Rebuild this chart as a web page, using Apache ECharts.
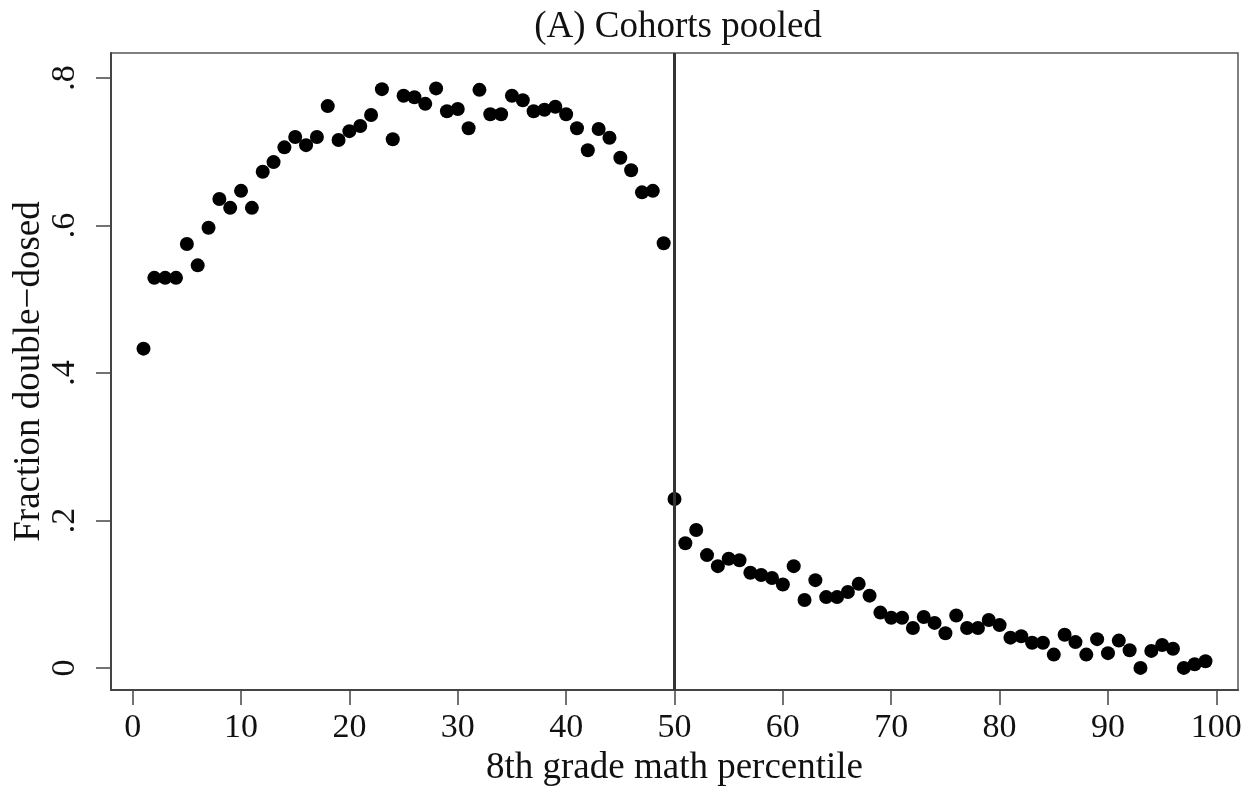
<!DOCTYPE html>
<html>
<head>
<meta charset="utf-8">
<script src="https://cdn.jsdelivr.net/npm/echarts@6/dist/echarts.min.js"></script>
<style>
  html, body { margin: 0; padding: 0; background: #fff; }
  #chart { width: 1252px; height: 791px; }
</style>
</head>
<body>
<div id="chart"></div>
<script>
'use strict';

// percentile bins 1..99
const percentiles = [
  1, 2, 3, 4, 5, 6, 7, 8, 9, 10, 11, 12, 13, 14, 15, 16, 17, 18, 19, 20,
  21, 22, 23, 24, 25, 26, 27, 28, 29, 30, 31, 32, 33, 34, 35, 36, 37, 38, 39, 40,
  41, 42, 43, 44, 45, 46, 47, 48, 49, 50, 51, 52, 53, 54, 55, 56, 57, 58, 59, 60,
  61, 62, 63, 64, 65, 66, 67, 68, 69, 70, 71, 72, 73, 74, 75, 76, 77, 78, 79, 80,
  81, 82, 83, 84, 85, 86, 87, 88, 89, 90, 91, 92, 93, 94, 95, 96, 97, 98, 99
];

// fraction double-dosed
const fractionDoubleDosed = [
  0.433, 0.529, 0.529, 0.529, 0.575, 0.546, 0.597, 0.636, 0.624, 0.647,
  0.624, 0.673, 0.686, 0.706, 0.720, 0.709, 0.720, 0.762, 0.716, 0.728,
  0.735, 0.750, 0.785, 0.717, 0.776, 0.774, 0.765, 0.786, 0.755, 0.758,
  0.732, 0.784, 0.751, 0.751, 0.776, 0.770, 0.755, 0.757, 0.761, 0.751,
  0.732, 0.702, 0.731, 0.719, 0.692, 0.675, 0.645, 0.647, 0.576, 0.229,
  0.169, 0.187, 0.153, 0.138, 0.148, 0.146, 0.129, 0.126, 0.122, 0.113,
  0.138, 0.092, 0.119, 0.096, 0.096, 0.103, 0.114, 0.098, 0.075, 0.068,
  0.068, 0.054, 0.069, 0.061, 0.047, 0.071, 0.054, 0.054, 0.065, 0.058,
  0.041, 0.043, 0.034, 0.034, 0.018, 0.045, 0.035, 0.018, 0.039, 0.020,
  0.037, 0.024, 0.000, 0.023, 0.031, 0.026, 0.000, 0.005, 0.009
];

const xTicks = [0, 10, 20, 30, 40, 50, 60, 70, 80, 90, 100];
const yTicks = [0, 0.2, 0.4, 0.6, 0.8];
const cutoff = 50;

const serif = '"Liberation Serif", "DejaVu Serif", serif';

let chart = echarts.init(document.getElementById('chart'));

chart.setOption({
  animation: false,
  backgroundColor: '#fff',
  // title is centred over the plot region, like Stata does
  title: {
    text: '(A) Cohorts pooled',
    left: 673,
    textAlign: 'center',
    top: 4,
    textStyle: { fontFamily: serif, fontSize: 37, fontWeight: 'normal', color: '#111' }
  },
  grid: {
    left: 111, right: 14, top: 53, bottom: 101,
    outerBoundsMode: 'none',
    show: true, borderColor: '#555', borderWidth: 1.5
  },
  xAxis: {
    type: 'value',
    min: -2, max: 102,
    name: '8th grade math percentile',
    nameLocation: 'middle',
    nameMoveOverlap: false,
    nameGap: 60,
    nameTextStyle: { fontFamily: serif, fontSize: 37, color: '#111' },
    axisLine: { show: true, onZero: false, lineStyle: { color: '#444', width: 2 } },
    axisTick: { show: true, length: 15, customValues: xTicks, lineStyle: { color: '#444', width: 1.5 } },
    axisLabel: { customValues: xTicks, margin: 21, fontFamily: serif, fontSize: 34, color: '#111' },
    splitLine: { show: false }
  },
  yAxis: {
    type: 'value',
    min: -0.03, max: 0.834,
    name: 'Fraction double\u2212dosed',
    nameLocation: 'middle',
    nameMoveOverlap: false,
    nameRotate: 90,
    nameGap: 63,
    nameTextStyle: { fontFamily: serif, fontSize: 37, color: '#111' },
    axisLine: { show: true, onZero: false, lineStyle: { color: '#444', width: 2 } },
    axisTick: { show: true, length: 15, customValues: yTicks, lineStyle: { color: '#444', width: 1.5 } },
    axisLabel: {
      customValues: yTicks,
      rotate: 90,
      margin: 29,
      fontFamily: serif, fontSize: 34, color: '#111',
      formatter: function(v) {
        if (Math.abs(v) < 1e-9) { return '0'; }
        return v.toFixed(1).replace(/^0/, '');
      }
    },
    splitLine: { show: false }
  },
  series: [{
    type: 'scatter',
    symbol: 'circle',
    symbolSize: 14,
    itemStyle: { color: '#000', opacity: 1 },
    data: percentiles.map(function(p, i) { return [p, fractionDoubleDosed[i]]; }),
    markLine: {
      silent: true,
      symbol: 'none',
      label: { show: false },
      lineStyle: { color: '#333', width: 3, type: 'solid' },
      data: [{ xAxis: cutoff }]
    }
  }]
});
</script>
</body>
</html>
